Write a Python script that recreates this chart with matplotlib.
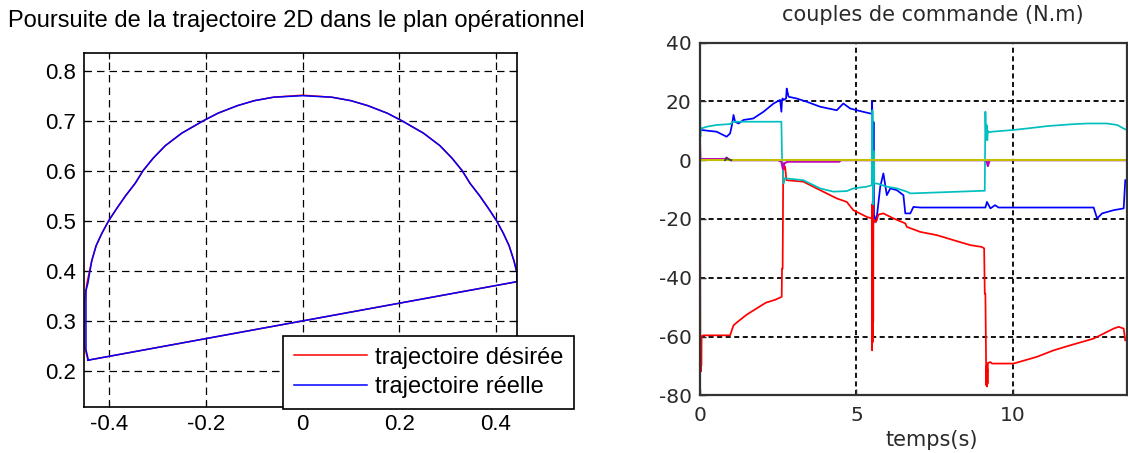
import numpy as np
import matplotlib.pyplot as plt

# Trajectoire 2D dans le plan operationnel (m)
x_des = np.array([-0.444, 0.443, 0.443, 0.437, 0.427, 0.415, 0.401, 0.384, 0.366, 0.346,
                  0.330, 0.309, 0.284, 0.250, 0.205, 0.175, 0.135, 0.100, 0.060, 0.0,
                  -0.060, -0.100, -0.135, -0.175, -0.205, -0.250, -0.284, -0.309, -0.330,
                  -0.346, -0.366, -0.384, -0.401, -0.415, -0.427, -0.436, -0.441, -0.446,
                  -0.451, -0.451, -0.444])
y_des = np.array([0.221, 0.378, 0.398, 0.420, 0.450, 0.475, 0.500, 0.525, 0.550, 0.575,
                  0.600, 0.625, 0.650, 0.675, 0.700, 0.715, 0.730, 0.740, 0.747, 0.751,
                  0.747, 0.740, 0.730, 0.715, 0.700, 0.675, 0.650, 0.625, 0.600,
                  0.575, 0.550, 0.525, 0.500, 0.475, 0.450, 0.420, 0.398, 0.375,
                  0.340, 0.250, 0.221])

x_reel = np.array([-0.444, 0.443, 0.443, 0.437, 0.427, 0.415, 0.401, 0.384, 0.366, 0.346,
                   0.330, 0.309, 0.284, 0.250, 0.205, 0.175, 0.135, 0.100, 0.060, 0.0,
                   -0.060, -0.100, -0.135, -0.175, -0.205, -0.250, -0.284, -0.309, -0.330,
                   -0.346, -0.366, -0.384, -0.401, -0.415, -0.427, -0.436, -0.440, -0.444,
                   -0.448, -0.448, -0.443])
y_reel = np.array([0.221, 0.378, 0.396, 0.420, 0.450, 0.475, 0.500, 0.525, 0.550, 0.575,
                   0.600, 0.625, 0.650, 0.675, 0.700, 0.715, 0.730, 0.740, 0.747, 0.750,
                   0.747, 0.740, 0.730, 0.715, 0.700, 0.675, 0.650, 0.625, 0.600,
                   0.575, 0.550, 0.525, 0.500, 0.475, 0.450, 0.420, 0.398, 0.375,
                   0.360, 0.242, 0.221])

xticks_traj = [-0.4, -0.2, 0, 0.2, 0.4]
xlabels_traj = ['-0.4', '-0.2', '0', '0.2', '0.4']
yticks_traj = [0.2, 0.3, 0.4, 0.5, 0.6, 0.7, 0.8]
ylabels_traj = ['0.2', '0.3', '0.4', '0.5', '0.6', '0.7', '0.8']

# Couples de commande (N.m) en fonction du temps (s)
t_bleu = np.array([0, 0.03, 0.53, 0.85, 0.96, 1.02, 1.07, 1.12, 1.23, 1.39, 1.7, 2.03, 2.35,
                   2.56, 2.6, 2.62, 2.64, 2.67, 2.75, 2.77, 2.8, 2.83, 3.09, 3.41, 3.84, 4.37,
                   4.58, 4.8, 5.01, 5.44, 5.49, 5.50, 5.51, 5.53, 5.545, 5.56, 5.58, 5.62, 5.65,
                   5.76, 5.86, 5.97, 6.08, 6.29, 6.5, 6.56, 6.72, 6.82, 7.04, 9.12, 9.17, 9.28,
                   9.43, 9.54, 12.58, 12.69, 12.85, 13.22, 13.54, 13.59])
c_bleu = np.array([10.8, 10.3, 9.7, 8.0, 9.1, 12, 15.4, 13.1, 12.5, 13.7, 14.2, 16.5, 19.3,
                   20.5, 16.5, 20.5, 21, 20.5, 21, 24.4, 23, 21.6, 21, 19.9, 18.2, 17,
                   19.3, 17.6, 17, 15.9, 15.9, 20, 13, -15, 13, -21, -19, -21, -19.3,
                   -9, -4.5, -11.9, -9.6, -10.2, -11.9, -18.1, -18.1, -15.9, -16.1, -16.1, -14.2, -16.4,
                   -15.3, -16.1, -16.1, -19.8, -18.1, -17, -16.4, -6.8])

t_rouge = np.array([0, 0.01, 0.02, 0.025, 0.03, 0.035, 0.04, 0.05, 0.1, 0.96, 1.07, 1.2, 1.5,
                    1.8, 2.1, 2.4, 2.61, 2.62, 2.64, 2.66, 2.68, 2.72, 2.76, 3.3, 3.84, 4.37,
                    4.69, 4.9, 5.33, 5.49, 5.50, 5.51, 5.515, 5.52, 5.525, 5.53, 5.535, 5.54,
                    5.55, 5.6, 5.65, 5.7, 5.86, 6.18, 6.56, 6.61, 7.04, 7.57, 8.1, 8.64, 9.0,
                    9.08, 9.10, 9.12, 9.15, 9.16, 9.17, 9.18, 9.19, 9.2, 9.28, 9.33, 10.02,
                    10.77, 11.3, 11.83, 12.58, 13.22, 13.38, 13.54, 13.59])
c_rouge = np.array([0, -60, -72, -60, -71, -61, -70, -60, -59.6, -59.6, -56.2, -55, -52.5,
                    -50.5, -48.5, -47.5, -46.5, -36.9, -36.9, -1, -3, -2.2, -6.8, -7.3, -10.2, -13,
                    -14.2, -17, -19.3, -19.8, -64.7, -15, -62, -14, -60, -18, -55, -22,
                    -20, -21, -20.4, -18.5, -18.1, -19.8, -21.5, -22.7, -24.4, -25.5, -27.2, -28.9, -29.5,
                    -30, -45.4, -45.4, -76.6, -70, -77, -71, -76, -69, -68.7, -69.2, -69.2,
                    -66.9, -64.7, -63, -60.7, -57.3, -56.7, -57.3, -61.3])

t_cyan = np.array([0, 0.005, 0.01, 0.02, 0.05, 0.21, 0.53, 0.96, 1.07, 2.6, 2.62, 2.65, 2.67,
                   2.7, 2.77, 3.3, 3.84, 4.26, 4.69, 4.9, 5.33, 5.49, 5.51, 5.53, 5.55, 5.57,
                   5.65, 5.97, 6.29, 6.61, 6.72, 9.06, 9.1, 9.12, 9.14, 9.16, 9.18, 9.2, 9.25,
                   9.33, 10.02, 10.45, 11.09, 11.83, 12.37, 13.0, 13.33, 13.59])
c_cyan = np.array([19.5, 19.5, 8, 11, 10.8, 11.4, 12, 12.3, 13.1, 13.1, 1, -3.4, -7.9,
                   -6.2, -6.2, -6.8, -9.6, -10.7, -10.5, -9.6, -9, -8.5, 17, -15, 3, -8,
                   -7.9, -9, -9.6, -10.7, -11.3, -10.4, -10.4, 16.5, 7, 12, 6.8, 10, 9.5,
                   9.7, 10.3, 10.8, 11.6, 12.2, 12.5, 12.5, 12, 10.5])

t_magenta = np.array([0, 0.01, 0.02, 0.8, 0.85, 0.9, 0.95, 2.5, 2.6, 2.65, 2.7, 2.8, 4.45,
                      4.5, 9.15, 9.2, 9.25, 13.66])
c_magenta = np.array([5, 0.5, 0.4, 0.4, 0.9, 0.4, 0, 0, -0.5, -3, -1, -0.5, -0.5,
                      0, 0, -2, 0, 0])

t_jaune = np.array([0, 13.66])
c_jaune = np.array([0, 0])

t_noir = np.array([0.8, 0.86, 0.92, 1.0])
c_noir = np.array([0, 0.7, 0.3, 0])

xticks_c = [0, 5, 10]
yticks_c = [-80, -60, -40, -20, 0, 20, 40]

fig = plt.figure(figsize=(11.28, 4.53), dpi=100, facecolor='w')

# --- trajectoire ---
police_g = 'Liberation Sans'
ax1 = fig.add_axes([0.0745, 0.1022, 0.3839, 0.7815])
ax1.plot(x_des, y_des, color='#ff0000', lw=1.1, label='trajectoire désirée')
ax1.plot(x_reel, y_reel, color='#0000ff', lw=1.1, label='trajectoire réelle')
ax1.set_xlim(-0.452, 0.4435)
ax1.set_ylim(0.128, 0.836)
ax1.set_xticks(xticks_traj)
ax1.set_xticklabels(xlabels_traj, fontsize=16, family=police_g)
ax1.set_yticks(yticks_traj)
ax1.set_yticklabels(ylabels_traj, fontsize=16, family=police_g)
ax1.tick_params(direction='in', length=4, width=0.8, top=True, right=True, pad=5.5)
ax1.grid(True, color='k', linestyle=(0, (6, 4)), lw=0.9)
for s in ax1.spines.values():
    s.set_linewidth(1.2)
fig.text(296 / 1128, 1 - 21 / 453, 'Poursuite de la trajectoire 2D dans le plan opérationnel',
         ha='center', va='center', fontsize=17, family=police_g)
leg = ax1.legend(loc='lower right', bbox_to_anchor=(574 / 1128, 44 / 453),
                 bbox_transform=fig.transFigure, borderaxespad=0, fancybox=False,
                 framealpha=1, edgecolor='k', handlelength=3.1, handletextpad=0.35,
                 labelspacing=0.33, borderpad=0.45, prop={'family': police_g, 'size': 17})
leg.get_frame().set_linewidth(1.2)

# --- couples ---
police_d = 'DejaVu Sans'
gris = '#2a2a2a'
ax2 = fig.add_axes([0.6206, 0.1274, 0.3789, 0.7784])
ax2.plot(t_bleu, c_bleu, color='#0000ff', lw=1.25)
ax2.plot(t_rouge, c_rouge, color='#ff0000', lw=1.25)
ax2.plot(t_cyan, c_cyan, color='#00bfbf', lw=1.25)
ax2.plot(t_magenta, c_magenta, color='#bf00bf', lw=1.5)
ax2.plot(t_jaune, c_jaune, color='#bfbf00', lw=1.5)
ax2.plot(t_noir, c_noir, color='#404040', lw=1.3)
ax2.set_xlim(0, 13.66)
ax2.set_ylim(-80, 40)
ax2.set_xticks(xticks_c)
ax2.set_xticklabels([str(v) for v in xticks_c], fontsize=14.5, family=police_d, color=gris)
ax2.set_yticks(yticks_c)
ax2.set_yticklabels([str(v) for v in yticks_c], fontsize=14.5, family=police_d, color=gris)
ax2.tick_params(direction='in', length=4, width=1.0, colors=gris, pad=6)
ax2.tick_params(axis='x', pad=8)
ax2.grid(True, color='#111111', linestyle=(0, (2.6, 1.8)), lw=1.4)
for s in ax2.spines.values():
    s.set_linewidth(1.6)
    s.set_color('#333333')
ax2.text(0.545, 1 + 27.7 / 352.6, 'couples de commande (N.m)', transform=ax2.transAxes,
         ha='center', va='center', fontsize=15, family=police_d, color=gris)
ax2.text(0.542, -(440 - 395.3) / 352.6, 'temps(s)', transform=ax2.transAxes,
         ha='center', va='center', fontsize=15, family=police_d, color=gris)

fig.savefig('out.png', dpi=100, facecolor='w')
